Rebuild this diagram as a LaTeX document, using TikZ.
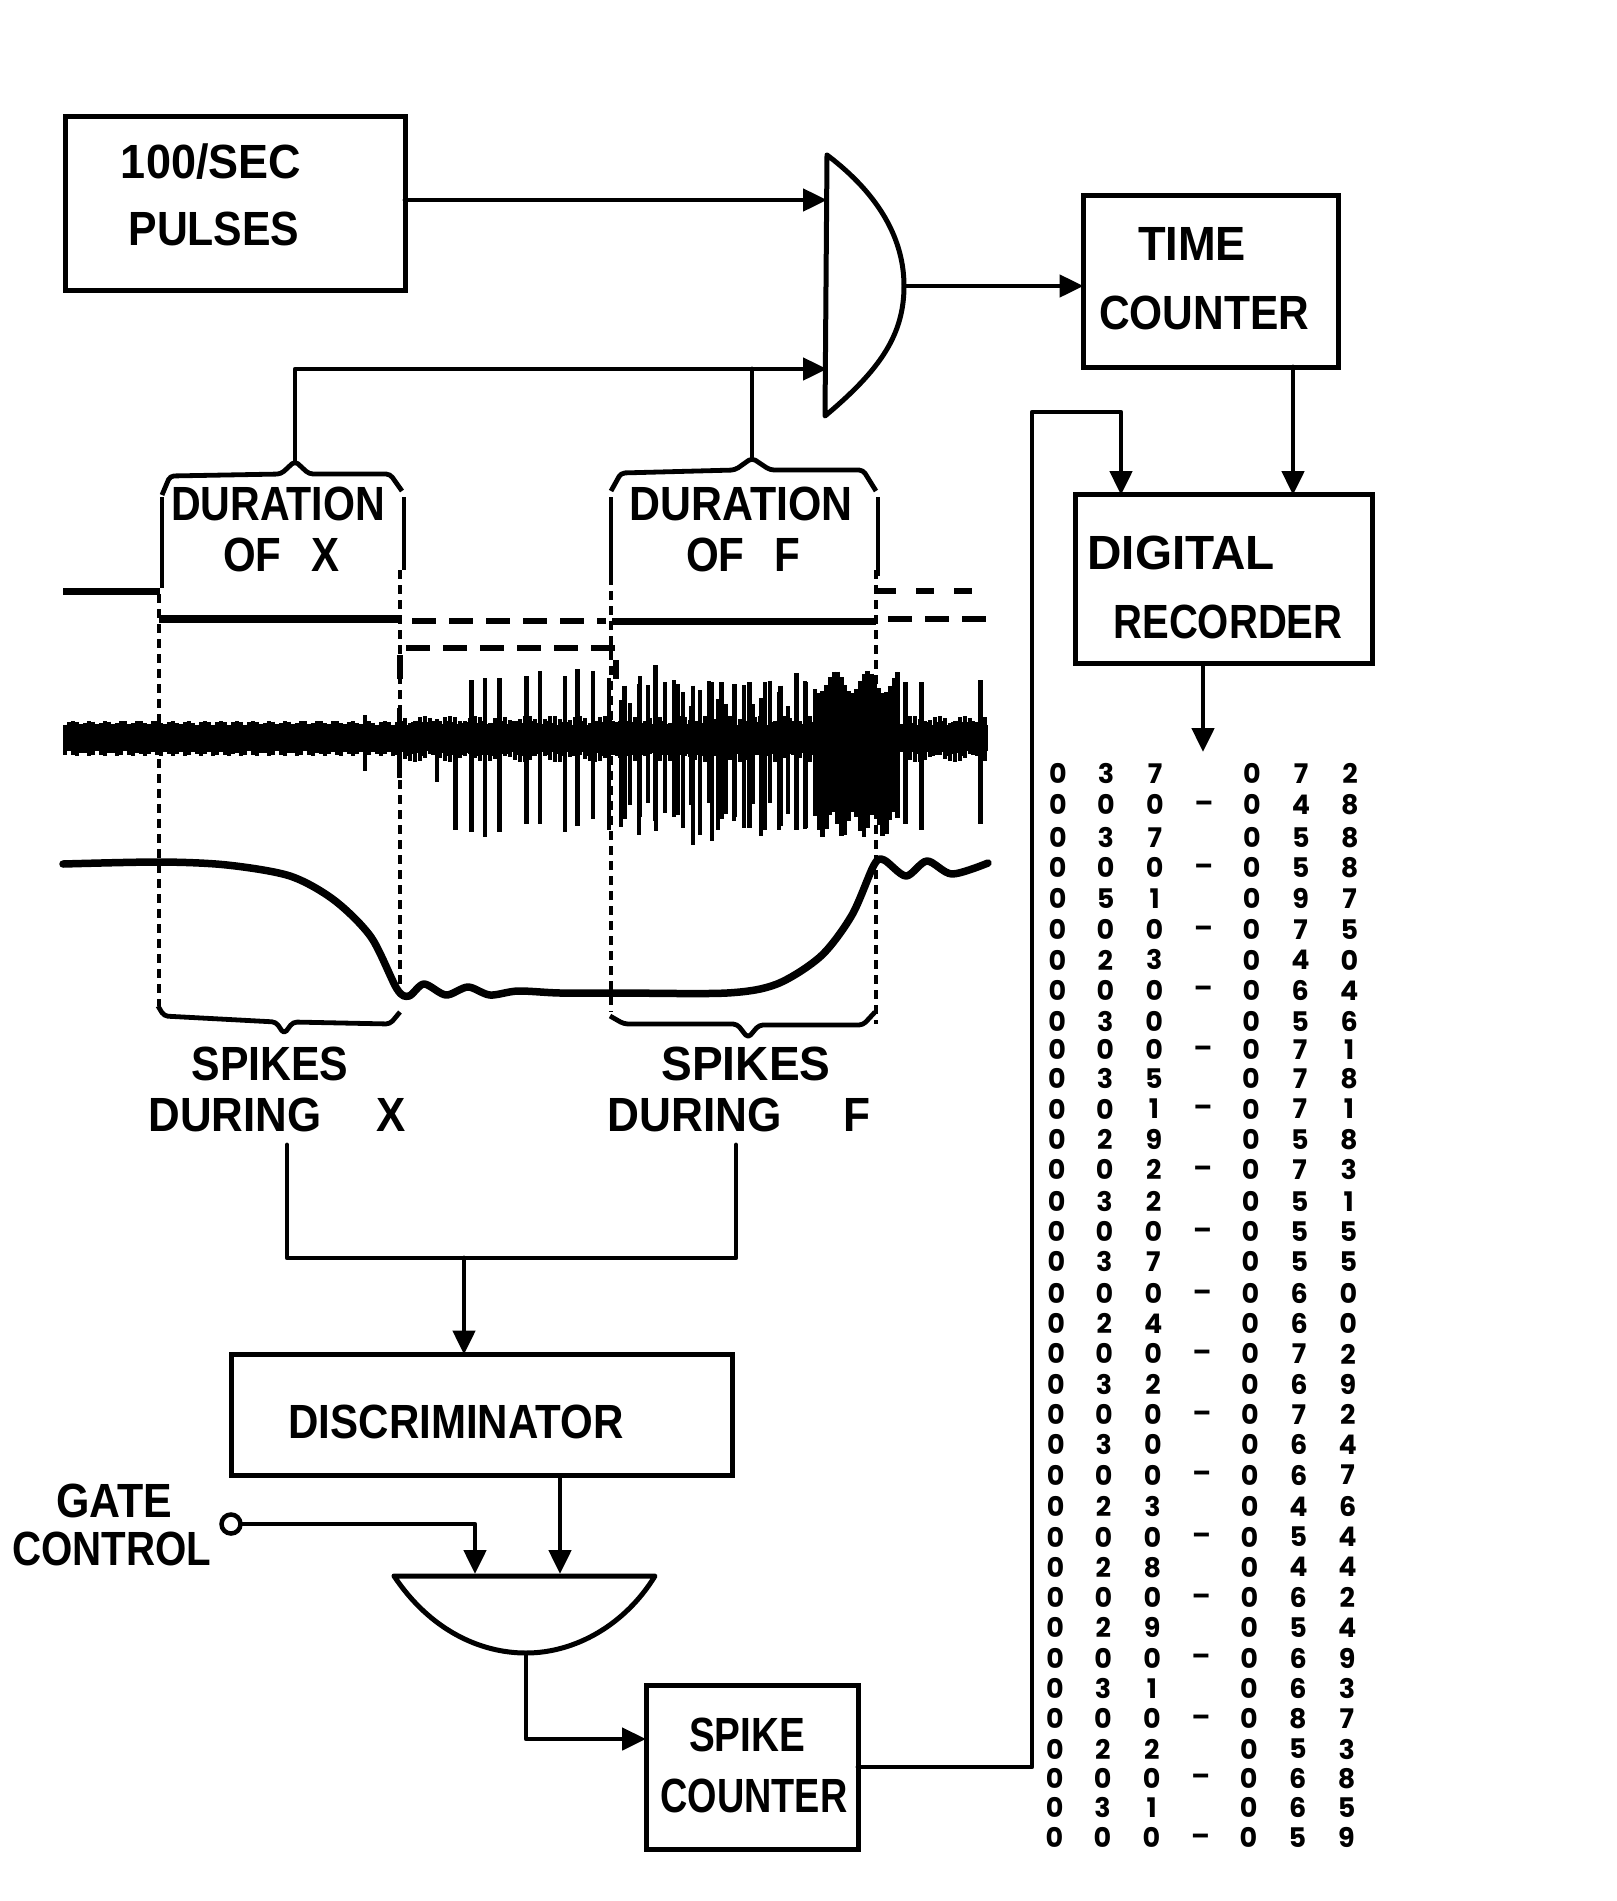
\documentclass[tikz,border=0pt]{standalone}
\usepackage{fontspec}
\usepackage{graphicx}
\setmainfont{Liberation Sans}
\newfontfamily\digitfont{Poppins}
\usetikzlibrary{arrows.meta,calc}
\newcommand\W[2]{\resizebox{#1pt}{\height}{#2}}
\tikzset{
  wire/.style={line width=4.8pt,line cap=round,line join=round},
  arrowed/.style={wire,-{Triangle[length=24pt,width=22pt]}},
  box/.style={draw,line width=5pt,minimum width=#1,inner sep=0pt,outer sep=0pt},
  lab/.style={font=\fontsize{48}{50}\selectfont\bfseries,inner sep=0pt},
  digit/.style={font=\fontsize{27}{30}\selectfont\digitfont\bfseries,inner sep=0pt},
  dots/.style={line width=4.5pt,dash pattern=on 9pt off 6pt},
  level/.style={line width=7pt},
  leveldash/.style={line width=6.5pt,dash pattern=on 24pt off 13pt},
  trace/.style={line width=7.5pt,line join=round,line cap=round},
  brace/.style={line width=4.8pt,line join=round,rounded corners=4pt},
  spike/.style={line width=4.5pt}
}
\begin{document}
\begin{tikzpicture}[x=1pt,y=-1pt]
\useasboundingbox[fill=white] (0,0) rectangle (1617,1901);

% boxes
\node[box=340pt,minimum height=174pt] (pulses) at (235,203) {};
\node[box=255pt,minimum height=172pt] (time) at (1211,281) {};
\node[box=297pt,minimum height=169pt] (rec) at (1224,579) {};
\node[box=501pt,minimum height=121pt] (disc) at (482,1415) {};
\node[box=212pt,minimum height=164pt] (spk) at (752,1767) {};

% box labels
\node[lab] (t1) at (211,162) {\W{180}{100/SEC}};
\node[lab] (t2) at (214,229) {\W{171}{PULSES}};
\node[lab] (t3) at (1192,244) {\W{108}{TIME}};
\node[lab] (t4) at (1204,313) {\W{210}{COUNTER}};
\node[lab] (t5) at (1181,553) {\W{187}{DIGITAL}};
\node[lab] (t6) at (1228,622) {\W{229}{RECORDER}};
\node[lab] (t7) at (278,504) {\W{214}{DURATION}};
\node[lab] (t8) at (281,555) {\W{116}{OF\hspace{34pt}X}};
\node[lab] (t9) at (741,504) {\W{223}{DURATION}};
\node[lab] (t10) at (743,555) {\W{114}{OF\hspace{34pt}F}};
\node[lab] (t11) at (270,1064) {\W{157}{SPIKES}};
\node[lab] (t12) at (277,1115) {\W{257}{DURING\hspace{60pt}X}};
\node[lab] (t13) at (746,1064) {\W{169}{SPIKES}};
\node[lab] (t14) at (739,1115) {\W{262}{DURING\hspace{66pt}F}};
\node[lab] (t15) at (456,1422) {\W{335}{DISCRIMINATOR}};
\node[lab] (t16) at (114,1501) {\W{116}{GATE}};
\node[lab] (t17) at (112,1549) {\W{199}{CONTROL}};
\node[lab] (t18) at (747,1735) {\W{116}{SPIKE}};
\node[lab] (t19) at (754,1796) {\W{187}{COUNTER}};

% AND gate (upper)
\coordinate (gin1) at (827,200);
\coordinate (gin2) at (827,369);
\coordinate (gout) at (904,286);
\draw[wire,line width=5pt] (827,155) -- (825,416)
  .. controls (880,370) and (904,335) .. (gout)
  .. controls (904,240) and (880,195) .. (827,155);
\draw[arrowed] (pulses.east |- gin1) -- (gin1);
\draw[arrowed] (gout) -- (gout -| time.west);
\coordinate (b1) at (295,461);
\coordinate (b2) at (752,458);
\draw[arrowed] (b1) -- (b1 |- gin2) -- (gin2);
\draw[wire] (b2) -- (b2 |- gin2);

% braces over the durations
\draw[brace] (162,495) -- (170,476) -- (281,474) -- (b1) -- (309,474) -- (390,474) -- (402,491);
\draw[brace] (611,491) -- (621,473) -- (735,470) -- (b2) -- (770,470) -- (863,470) -- (876,491);
\draw[line width=4pt] (162,497) -- (162,588);
\draw[line width=4pt] (404,497) -- (404,570);
\draw[line width=4pt] (611,497) -- (611,576);
\draw[line width=4pt] (878,497) -- (878,576);

% right side connectors
\coordinate (rin2) at (1293,495);
\draw[arrowed] (rin2 |- time.south) -- (rin2);
\coordinate (rout) at (1203,752);
\draw[arrowed] (rec.south -| rout) -- (rout);
\coordinate (rin1) at (1121,495);
\coordinate (sOut) at (1032,1767);
\draw[arrowed] (spk.east) -- (sOut) -- (1032,412) -- (1121,412) -- (rin1);

% vertical guides
\draw[dots] (159,594) -- (159,1006);
\draw[dots] (400,570) -- (400,996);
\draw[dots] (611,576) -- (611,1012);
\draw[dots] (876,570) -- (876,1024);

% state lines
\draw[level] (63,591) -- (160,591);
\draw[level,line width=8.5pt] (159,619) -- (402,619);
\draw[leveldash] (412,621) -- (606,621);
\draw[level] (612,621) -- (876,621);
\draw[leveldash] (888,619) -- (988,619);
\draw[leveldash,dash pattern=on 18pt off 20pt] (878,591) -- (988,591);
\draw[leveldash] (400,679) -- (400,648) -- (616,648) -- (616,679);

% recorded spike train
\fill (63,725) rectangle (988,751);
\foreach \x in {65,69,...,986}{
  \draw[line width=4.5pt] (\x,{738-13-4*abs(sin(\x*11))}) -- (\x,{738+13+5*abs(sin(\x*13))});
}
\foreach \x in {400,405,...,985}{
  \draw[line width=4.5pt] (\x,{738-14-8*abs(sin(\x*7))}) -- (\x,{738+14+10*abs(sin(\x*5))});
}
\foreach \zx/\zt/\zb in {520/690/840,575/670/860,635/700/870,665/720/1000,690/595/1005,712/590/1020,735/590/1005,778/585/985,800/570/985,840/585/1005,860/565/990,885/570/970,910/590/1000,935/610/970,960/585/965,985/555/975,1000/600/940,1020/605/960,1045/610/1040,1075/600/1030,1090/600/970,1110/605/975,1135/600/995,1160/600/1000,1185/610/990,1210/575/1000,1225/600/995,1385/600/985,1410/600/1000,1505/595/985}{
  \draw[spike] ({40+\zx/1.6},{460+\zt*0.37}) -- ({40+\zx/1.6},{460+\zb*0.37});
}
\foreach \zx in {930,944,...,1235}{
  \draw[spike,line width=4pt] ({40+\zx/1.6},{460+(630+35*sin(\zx*7))*0.37}) -- ({40+\zx/1.6},{460+(970+45*sin(\zx*11))*0.37});
}
\foreach \zx in {1240,1246,...,1372}{
  \draw[spike] ({40+\zx/1.6},{460+(600+30*sin(\zx*7))*0.37}) -- ({40+\zx/1.6},{460+(985+35*sin(\zx*11))*0.37});
}

% movement trace
\draw[trace] plot[smooth,tension=0.5] coordinates {(63,864) (160,862) (227,865) (290,876) (334,900) (371,937) (397,989) (409,996) (424,984) (446,995) (468,987) (490,995) (518,991) (560,993) (620,993) (727,993) (777,984) (821,956) (852,915) (874,865) (884,860) (906,876) (927,861) (952,874) (988,863)};

% lower braces
\draw[brace] (158,1006) -- (164,1016) -- (276,1022) -- (284,1034) -- (293,1022) -- (390,1024) -- (400,1012);
\draw[brace] (610,1016) -- (624,1024) -- (737,1024) -- (748,1038) -- (759,1025) -- (863,1025) -- (875,1012);

% merge to discriminator
\coordinate (m1) at (287,1145);
\coordinate (m2) at (736,1145);
\coordinate (mj) at (464,1258);
\draw[wire] (m1) -- (m1 |- mj) -- (m2 |- mj) -- (m2);
\draw[arrowed] (mj) -- (mj |- disc.north);

% lower AND gate
\coordinate (lin1) at (475,1574);
\coordinate (lin2) at (560,1574);
\coordinate (lout) at (526,1653);
\draw[wire,line width=5pt] (394,1576) -- (655,1576)
  .. controls (625,1625) and (575,1653) .. (lout)
  .. controls (480,1653) and (430,1630) .. (394,1576);
\draw[arrowed] (lin2 |- disc.south) -- (lin2);
\node[draw,circle,line width=4.5pt,minimum size=19pt,inner sep=0pt] (gate) at (231,1524) {};
\draw[arrowed] (gate.east) -- (475,1524) -- (lin1);
\draw[arrowed] (lout) -- (526,1739) -- (526,1739 -| spk.west);

% printed record
\foreach \i/\aa/\ab/\ac/\ba/\bb/\bc in {
0/0/3/7/0/7/2,1/0/0/0/0/4/8,2/0/3/7/0/5/8,3/0/0/0/0/5/8,4/0/5/1/0/9/7,5/0/0/0/0/7/5,
6/0/2/3/0/4/0,7/0/0/0/0/6/4,8/0/3/0/0/5/6,9/0/0/0/0/7/1,10/0/3/5/0/7/8,11/0/0/1/0/7/1,
12/0/2/9/0/5/8,13/0/0/2/0/7/3,14/0/3/2/0/5/1,15/0/0/0/0/5/5,16/0/3/7/0/5/5,17/0/0/0/0/6/0,
18/0/2/4/0/6/0,19/0/0/0/0/7/2,20/0/3/2/0/6/9,21/0/0/0/0/7/2,22/0/3/0/0/6/4,23/0/0/0/0/6/7,
24/0/2/3/0/4/6,25/0/0/0/0/5/4,26/0/2/8/0/4/4,27/0/0/0/0/6/2,28/0/2/9/0/5/4,29/0/0/0/0/6/9,
30/0/3/1/0/6/3,31/0/0/0/0/8/7,32/0/2/2/0/5/3,33/0/0/0/0/6/8,34/0/3/1/0/6/5,35/0/0/0/0/5/9}{
  \pgfmathsetmacro\ry{1.2121*{638,664,691,716,741,767,792,817,843,866,890,915,940,965,991,1016,1041,1067,1092,1117,1142,1167,1192,1217,1243,1268,1293,1318,1343,1368,1393,1418,1443,1467,1491,1516}[\i]}
  \pgfmathsetmacro\dx{-\i*0.1}
  \node[digit] (a\i) at ({1058+\dx},\ry) {\aa};
  \node[digit] (b\i) at ({1106+\dx},\ry) {\ab};
  \node[digit] (c\i) at ({1155+\dx},\ry) {\ac};
  \node[digit] (d\i) at ({1252+\dx},\ry) {\ba};
  \node[digit] (e\i) at ({1301+\dx},\ry) {\bb};
  \node[digit] (f\i) at ({1350+\dx},\ry) {\bc};
  \pgfmathparse{int(mod(\i,2))}
  \ifnum\pgfmathresult=1
    \node[digit] (g\i) at ({1204+\dx},\ry+2) {–};
  \fi
}
\end{tikzpicture}
\end{document}
